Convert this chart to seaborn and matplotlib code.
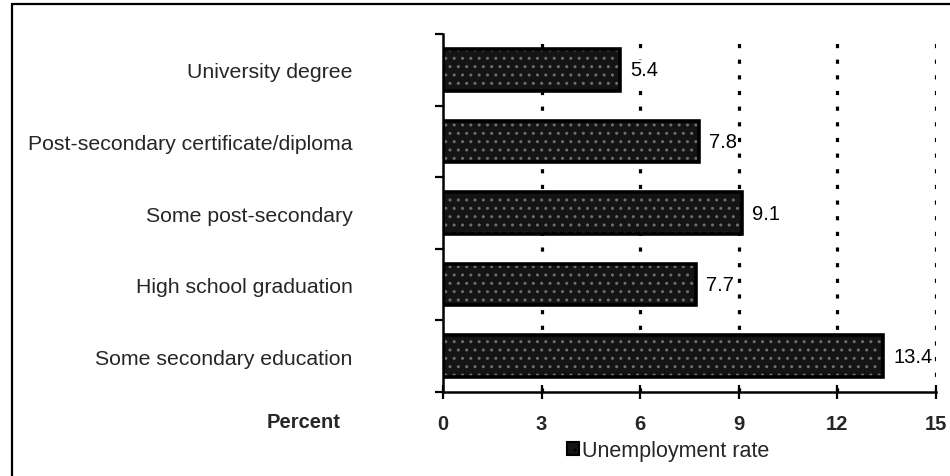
import matplotlib
matplotlib.use("Agg")
import matplotlib.pyplot as plt
from matplotlib.patches import Rectangle
from matplotlib.lines import Line2D
import seaborn as sns
import pandas as pd

# Unemployment rate by highest level of education
levels = [
    "University degree",
    "Post-secondary certificate/diploma",
    "Some post-secondary",
    "High school graduation",
    "Some secondary education",
]
rates = [5.4, 7.8, 9.1, 7.7, 13.4]
x_ticks = [0, 3, 6, 9, 12, 15]
series_name = "Unemployment rate"

df = pd.DataFrame({"level": levels, "rate": rates})

sns.set_theme(style="white")
plt.rcParams["font.family"] = ["Liberation Sans", "DejaVu Sans"]
plt.rcParams["hatch.linewidth"] = 1.0

fig = plt.figure(figsize=(9.5, 4.77), dpi=100)
ax = fig.add_axes([0.4663, 0.1761, 0.9853 - 0.4663, 0.9266 - 0.1761])

sns.barplot(data=df, x="rate", y="level", orient="h", color="#141414",
            width=0.58, label=series_name, ax=ax, zorder=2)

# speckled fill with a solid black outline
for p in ax.patches:
    p.set_hatch("..")
    p.set_edgecolor("#6e6e6e")
    p.set_linewidth(0)
    bb = p.get_bbox()
    ax.add_patch(Rectangle((bb.x0, bb.y0), bb.width, bb.height, fill=False,
                           edgecolor="black", linewidth=2.6, zorder=3))

# value labels
for i, v in enumerate(rates):
    ax.text(v + 0.3, i, f"{v:.1f}", va="center", ha="left",
            fontsize=14.5, color="black", zorder=4,
            bbox=dict(facecolor="white", edgecolor="none", pad=0.5))

ax.set_xlim(0, 15)
ax.set_ylim(4.5, -0.5)

# dotted vertical gridlines
for t in x_ticks[1:]:
    ax.axvline(t, color="black", linestyle=(0, (1.3, 3.6)), linewidth=2.3,
               dash_capstyle="butt", zorder=1)

for s in ["top", "right"]:
    ax.spines[s].set_visible(False)
for s in ["left", "bottom"]:
    ax.spines[s].set_color("black")
    ax.spines[s].set_linewidth(1.8)

ax.set_xticks(x_ticks)
ax.set_xticklabels([str(t) for t in x_ticks], fontweight="bold", fontsize=14.5)
ax.tick_params(axis="x", direction="inout", length=10, width=1.6,
               color="black", pad=11, bottom=True)

ax.set_yticks(range(len(levels)))
ax.set_yticklabels(levels, fontsize=15.3)
ax.set_yticks([i - 0.5 for i in range(len(levels) + 1)], minor=True)
ax.tick_params(axis="y", which="major", length=0, pad=65)
ax.tick_params(axis="y", which="minor", direction="out", length=6,
               width=1.6, color="black", left=True)

ax.set_xlabel("")
ax.set_ylabel("")

fig.text(341 / 950, 1 - 423 / 477, "Percent", ha="right", va="center",
         fontsize=14.5, fontweight="bold")

leg = ax.legend(loc="center", bbox_to_anchor=(668 / 950, 1 - 452 / 477),
                bbox_transform=fig.transFigure, frameon=False, fontsize=15.5,
                handlelength=0.55, handleheight=0.55, handletextpad=0.15)
for h in leg.legend_handles:
    h.set_edgecolor("black")
    h.set_linewidth(1.5)

# outer frame lines (top and left)
fig.add_artist(Line2D([12 / 950, 1], [1 - 5 / 477, 1 - 5 / 477],
                      color="black", linewidth=1.6, transform=fig.transFigure))
fig.add_artist(Line2D([12 / 950, 12 / 950], [0, 1 - 5 / 477],
                      color="black", linewidth=1.6, transform=fig.transFigure))

fig.savefig("out.png", dpi=100, facecolor="white")
